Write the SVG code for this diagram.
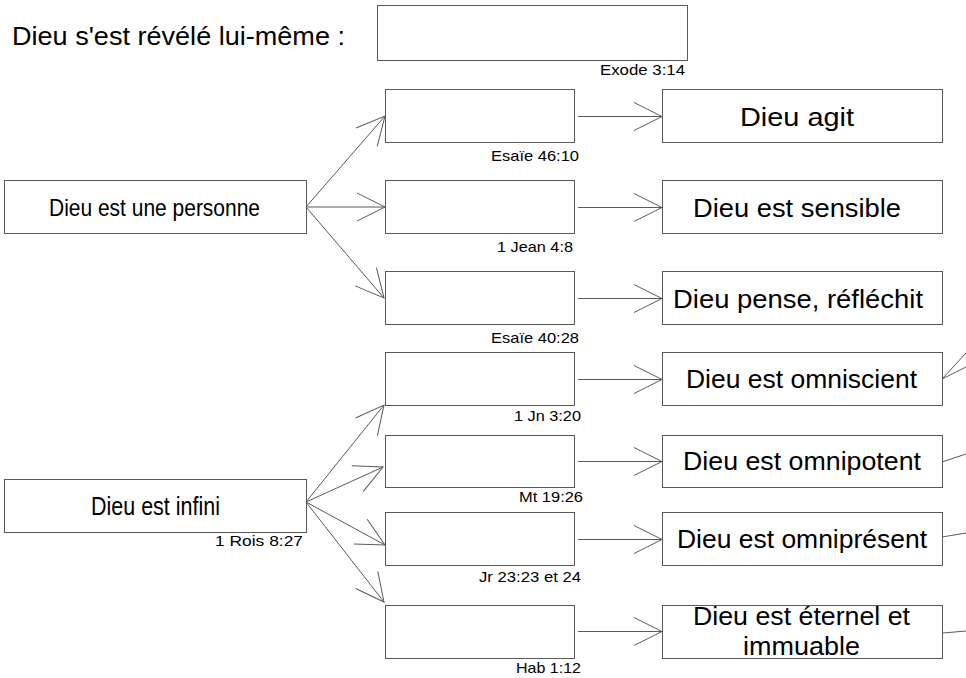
<svg xmlns="http://www.w3.org/2000/svg" width="966" height="678" viewBox="0 0 966 678">
<style>
.box{fill:#fff;stroke:#5a5a5a;stroke-width:1}
.ln{fill:none;stroke:#5a5a5a;stroke-width:1}
.t{font-family:"Liberation Sans",Arial,sans-serif;fill:#000}
.big{font-size:25px}
.mid{font-size:24px}
.sm{font-size:14.5px}
</style>
<defs>
<marker id="ah" viewBox="-30 -15 31 30" markerWidth="31" markerHeight="30" refX="0" refY="0" orient="auto" markerUnits="userSpaceOnUse">
<path d="M-28,-14 L0,0 L-28,14" fill="none" stroke="#5a5a5a" stroke-width="1"/>
</marker>
</defs>
<rect width="966" height="678" fill="#fff"/>
<g id="title">
<text class="t big" x="12" y="45" textLength="333" lengthAdjust="spacingAndGlyphs">Dieu s'est révélé lui-même :</text>
</g>
<g id="exode">
<rect class="box" x="377.5" y="5.5" width="310" height="55"/>
<text class="t sm" x="600" y="75" textLength="85" lengthAdjust="spacingAndGlyphs">Exode 3:14</text>
</g>
<g id="personne">
<rect class="box" x="4.5" y="180.5" width="302" height="53"/>
<text class="t mid" x="49" y="215.5" textLength="211" lengthAdjust="spacingAndGlyphs">Dieu est une personne</text>
</g>
<g id="infini">
<rect class="box" x="4.5" y="479.5" width="302" height="53"/>
<text class="t" style="font-size:25px" x="91" y="515" textLength="129" lengthAdjust="spacingAndGlyphs">Dieu est infini</text>
<text class="t sm" x="215" y="546" textLength="88" lengthAdjust="spacingAndGlyphs">1 Rois 8:27</text>
</g>
<g id="ref1">
<rect class="box" x="385.5" y="89.5" width="189" height="53"/>
<text class="t sm" x="491" y="161" textLength="88" lengthAdjust="spacingAndGlyphs">Esaïe 46:10</text>
</g>
<g id="ref2">
<rect class="box" x="385.5" y="180.5" width="189" height="53"/>
<text class="t sm" x="497" y="252" textLength="76" lengthAdjust="spacingAndGlyphs">1 Jean 4:8</text>
</g>
<g id="ref3">
<rect class="box" x="385.5" y="271.5" width="189" height="53"/>
<text class="t sm" x="491" y="342.5" textLength="88" lengthAdjust="spacingAndGlyphs">Esaïe 40:28</text>
</g>
<g id="ref4">
<rect class="box" x="385.5" y="352.5" width="189" height="53"/>
<text class="t sm" x="514" y="420.5" textLength="67" lengthAdjust="spacingAndGlyphs">1 Jn 3:20</text>
</g>
<g id="ref5">
<rect class="box" x="385.5" y="435.5" width="189" height="52"/>
<text class="t sm" x="519" y="501.5" textLength="64" lengthAdjust="spacingAndGlyphs">Mt 19:26</text>
</g>
<g id="ref6">
<rect class="box" x="385.5" y="512.5" width="189" height="53"/>
<text class="t sm" x="479" y="581.5" textLength="102" lengthAdjust="spacingAndGlyphs">Jr 23:23 et 24</text>
</g>
<g id="ref7">
<rect class="box" x="385.5" y="605.5" width="189" height="53"/>
<text class="t sm" x="516" y="672.5" textLength="65" lengthAdjust="spacingAndGlyphs">Hab 1:12</text>
</g>
<g id="agit">
<rect class="box" x="662.5" y="89.5" width="280" height="53"/>
<text class="t big" x="740" y="125.5" textLength="114" lengthAdjust="spacingAndGlyphs">Dieu agit</text>
</g>
<g id="sensible">
<rect class="box" x="662.5" y="180.5" width="280" height="53"/>
<text class="t big" x="693" y="216.5" textLength="208" lengthAdjust="spacingAndGlyphs">Dieu est sensible</text>
</g>
<g id="pense">
<rect class="box" x="662.5" y="271.5" width="280" height="53"/>
<text class="t big" x="673" y="308" textLength="250" lengthAdjust="spacingAndGlyphs">Dieu pense, réfléchit</text>
</g>
<g id="omniscient">
<rect class="box" x="662.5" y="352.5" width="280" height="53"/>
<text class="t big" x="686" y="387.5" textLength="231" lengthAdjust="spacingAndGlyphs">Dieu est omniscient</text>
</g>
<g id="omnipotent">
<rect class="box" x="662.5" y="435.5" width="280" height="52"/>
<text class="t big" x="683" y="469.5" textLength="238" lengthAdjust="spacingAndGlyphs">Dieu est omnipotent</text>
</g>
<g id="omnipresent">
<rect class="box" x="662.5" y="512.5" width="280" height="53"/>
<text class="t big" x="677" y="547.5" textLength="250" lengthAdjust="spacingAndGlyphs">Dieu est omniprésent</text>
</g>
<g id="eternel">
<rect class="box" x="662.5" y="605.5" width="280" height="53"/>
<text class="t big" x="693" y="625" textLength="217" lengthAdjust="spacingAndGlyphs">Dieu est éternel et</text>
<text class="t big" x="743" y="655" textLength="117" lengthAdjust="spacingAndGlyphs">immuable</text>
</g>
<g id="connectors">
<line class="ln" x1="306" y1="207" x2="385" y2="116" marker-end="url(#ah)"/>
<line class="ln" x1="306" y1="207" x2="385" y2="207" marker-end="url(#ah)"/>
<line class="ln" x1="306" y1="207" x2="384" y2="298" marker-end="url(#ah)"/>
<line class="ln" x1="306" y1="502" x2="384" y2="405" marker-end="url(#ah)"/>
<line class="ln" x1="306" y1="502" x2="383" y2="467" marker-end="url(#ah)"/>
<line class="ln" x1="306" y1="502" x2="385" y2="545" marker-end="url(#ah)"/>
<line class="ln" x1="306" y1="502" x2="384" y2="602" marker-end="url(#ah)"/>
<line class="ln" x1="578" y1="116.5" x2="662" y2="116.5" marker-end="url(#ah)"/>
<line class="ln" x1="578" y1="207.5" x2="662" y2="207.5" marker-end="url(#ah)"/>
<line class="ln" x1="578" y1="298.5" x2="662" y2="298.5" marker-end="url(#ah)"/>
<line class="ln" x1="578" y1="379.5" x2="662" y2="379.5" marker-end="url(#ah)"/>
<line class="ln" x1="578" y1="461.5" x2="662" y2="461.5" marker-end="url(#ah)"/>
<line class="ln" x1="578" y1="539.5" x2="662" y2="539.5" marker-end="url(#ah)"/>
<line class="ln" x1="578" y1="631.5" x2="662" y2="631.5" marker-end="url(#ah)"/>
<line class="ln" x1="942" y1="379" x2="966" y2="353"/>
<line class="ln" x1="942" y1="379" x2="966" y2="367"/>
<line class="ln" x1="942" y1="462" x2="966" y2="454"/>
<line class="ln" x1="942" y1="537" x2="966" y2="533"/>
<line class="ln" x1="943" y1="633" x2="966" y2="631"/>
</g>
</svg>
